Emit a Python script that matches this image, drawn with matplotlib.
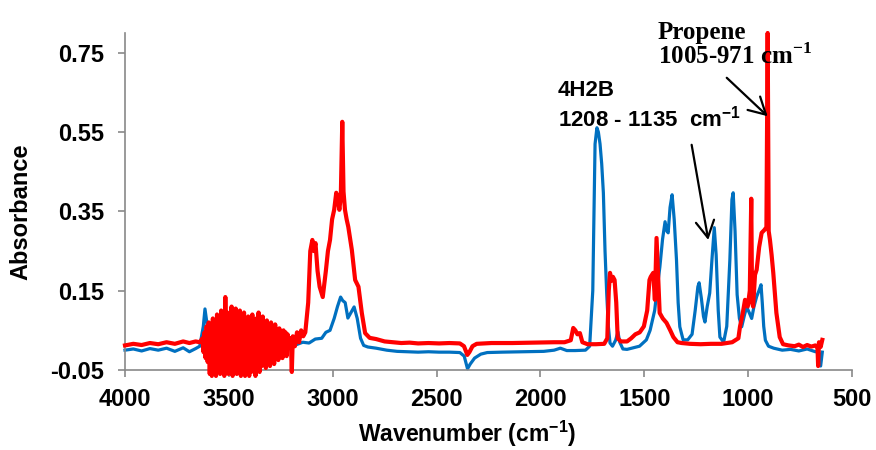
import matplotlib.pyplot as plt

plt.rcParams['font.family'] = ['Liberation Sans', 'DejaVu Sans']
plt.rcParams['font.weight'] = 'bold'
plt.rcParams['mathtext.fontset'] = 'custom'
plt.rcParams['mathtext.rm'] = 'Liberation Serif:bold'
plt.rcParams['mathtext.sf'] = 'Liberation Sans:bold'
plt.rcParams['axes.unicode_minus'] = False

# 4H2B spectrum (wavenumber, absorbance)
blue_pts = [
    (4000, 0.000), (3960, 0.003), (3920, -0.002), (3880, 0.004), (3840, 0.000),
    (3800, 0.005), (3760, -0.003), (3720, 0.006), (3690, -0.004), (3660, 0.004),
    (3640, 0.010), (3623, 0.060), (3615, 0.104), (3606, 0.070), (3593, 0.020),
    (3568, 0.010), (3538, 0.015), (3497, 0.005), (3447, 0.010), (3397, -0.005),
    (3346, 0.008), (3296, 0.000), (3245, -0.010), (3195, 0.010), (3144, 0.020),
    (3114, 0.018), (3084, 0.028), (3053, 0.030), (3033, 0.045), (3013, 0.050),
    (2993, 0.080), (2977, 0.110), (2962, 0.134), (2952, 0.125), (2940, 0.120),
    (2927, 0.081), (2912, 0.095), (2897, 0.109), (2882, 0.080), (2866, 0.030),
    (2851, 0.012), (2831, 0.008), (2791, 0.005), (2740, 0.000), (2690, -0.003),
    (2640, -0.004), (2589, -0.005), (2539, -0.004), (2488, -0.005), (2438, -0.005),
    (2388, -0.006), (2367, -0.015), (2351, -0.047), (2338, -0.035), (2317, -0.020),
    (2287, -0.010), (2256, -0.006), (2185, -0.005), (2085, -0.004), (1984, -0.003),
    (1934, 0.000), (1904, 0.005), (1873, -0.001), (1833, -0.001), (1783, 0.000),
    (1763, 0.010), (1748, 0.150), (1737, 0.520), (1728, 0.561), (1721, 0.550),
    (1713, 0.520), (1705, 0.470), (1697, 0.397), (1689, 0.250), (1681, 0.144),
    (1673, 0.060), (1665, 0.018), (1653, 0.010), (1638, 0.025), (1627, 0.046),
    (1618, 0.020), (1603, 0.003), (1583, 0.002), (1553, 0.006), (1523, 0.010),
    (1490, 0.026), (1472, 0.050), (1450, 0.100), (1437, 0.160), (1425, 0.210),
    (1412, 0.280), (1400, 0.324), (1391, 0.300), (1385, 0.296), (1376, 0.360),
    (1366, 0.392), (1356, 0.330), (1345, 0.228), (1337, 0.120), (1329, 0.059),
    (1313, 0.026), (1291, 0.026), (1270, 0.040), (1255, 0.100), (1242, 0.160),
    (1236, 0.170), (1225, 0.130), (1215, 0.085), (1208, 0.071), (1197, 0.110),
    (1185, 0.144), (1174, 0.230), (1163, 0.309), (1154, 0.240), (1144, 0.100),
    (1136, 0.033), (1118, 0.020), (1103, 0.060), (1088, 0.228), (1078, 0.380),
    (1072, 0.397), (1063, 0.300), (1053, 0.140), (1042, 0.080), (1031, 0.059),
    (1017, 0.090), (1007, 0.109), (995, 0.095), (983, 0.080), (972, 0.110),
    (959, 0.135), (948, 0.150), (938, 0.165), (932, 0.120), (925, 0.060),
    (917, 0.025), (902, 0.010), (877, 0.005), (836, 0.000), (796, 0.002),
    (756, -0.002), (716, 0.003), (676, -0.004), (661, 0.000), (651, -0.040),
    (643, -0.005),
]

# propene spectrum (wavenumber, absorbance)
red_pts = [
    (4000, 0.012), (3960, 0.016), (3920, 0.013), (3880, 0.018), (3840, 0.015),
    (3800, 0.020), (3760, 0.016), (3720, 0.022), (3690, 0.018), (3660, 0.022),
    (3640, 0.020),
    # noisy O-H region
    (3627, 0.030), (3622, -0.005), (3617, 0.045), (3612, -0.020), (3607, 0.060),
    (3602, -0.030), (3597, 0.070), (3592, -0.060), (3587, 0.050), (3582, -0.065),
    (3577, 0.080), (3572, -0.040), (3567, 0.065), (3562, -0.065), (3557, 0.090),
    (3552, -0.030), (3547, 0.075), (3542, -0.060), (3537, 0.100), (3532, -0.050),
    (3527, 0.085), (3522, -0.065), (3517, 0.134), (3512, -0.040), (3507, 0.095),
    (3502, -0.060), (3497, 0.080), (3492, -0.035), (3487, 0.110), (3482, -0.065),
    (3477, 0.070), (3472, -0.045), (3467, 0.105), (3462, -0.060), (3457, 0.085),
    (3452, -0.030), (3447, 0.100), (3442, -0.065), (3437, 0.075), (3432, -0.050),
    (3427, 0.095), (3422, -0.065), (3417, 0.060), (3412, -0.040), (3407, 0.085),
    (3402, -0.065), (3397, 0.070), (3392, -0.055), (3387, 0.090), (3382, -0.045),
    (3377, 0.065), (3372, -0.065), (3367, 0.080), (3362, -0.030), (3357, 0.095),
    (3352, -0.055), (3347, 0.070), (3342, -0.040), (3337, 0.085), (3332, -0.020),
    (3327, 0.060), (3322, -0.045), (3317, 0.075), (3312, -0.030), (3307, 0.055),
    (3302, -0.040), (3297, 0.070), (3292, -0.015), (3287, 0.050), (3282, -0.035),
    (3277, 0.065), (3272, -0.010), (3267, 0.045), (3262, -0.025), (3257, 0.055),
    (3252, 0.000), (3247, 0.040), (3242, -0.020), (3237, 0.050), (3232, 0.005),
    (3227, 0.045), (3222, -0.015), (3217, 0.040), (3212, 0.010), (3202, 0.030),
    (3197, -0.055), (3192, 0.035), (3182, 0.010), (3172, 0.045), (3162, 0.020),
    (3152, 0.050), (3142, 0.035), (3132, 0.045),
    # C-H stretch
    (3118, 0.120), (3108, 0.250), (3098, 0.278), (3091, 0.250), (3083, 0.270),
    (3073, 0.200), (3063, 0.160), (3048, 0.134), (3033, 0.200), (3023, 0.250),
    (3013, 0.278), (3003, 0.330), (2993, 0.354), (2983, 0.397), (2975, 0.380),
    (2968, 0.354), (2961, 0.390), (2954, 0.576), (2948, 0.400), (2941, 0.354),
    (2933, 0.330), (2925, 0.311), (2908, 0.253), (2892, 0.177), (2876, 0.160),
    (2860, 0.094), (2844, 0.043), (2822, 0.031), (2791, 0.028), (2750, 0.022),
    (2710, 0.020), (2670, 0.018), (2630, 0.019), (2589, 0.017), (2539, 0.018),
    (2488, 0.017), (2438, 0.018), (2388, 0.017), (2368, 0.010), (2352, -0.012),
    (2342, -0.005), (2327, 0.010), (2307, 0.016), (2236, 0.018), (2135, 0.018),
    (2034, 0.019), (1934, 0.020), (1884, 0.020), (1854, 0.025), (1842, 0.056),
    (1832, 0.050), (1822, 0.040), (1810, 0.043), (1798, 0.020), (1773, 0.015),
    (1733, 0.015), (1693, 0.016), (1678, 0.030), (1671, 0.150), (1665, 0.195),
    (1658, 0.175), (1651, 0.185), (1643, 0.177), (1635, 0.120), (1628, 0.030),
    (1613, 0.022), (1583, 0.022), (1563, 0.030), (1543, 0.040), (1522, 0.045),
    (1502, 0.060), (1486, 0.100), (1475, 0.177), (1469, 0.185), (1457, 0.195),
    (1449, 0.127), (1441, 0.283), (1434, 0.195), (1426, 0.094), (1411, 0.080),
    (1393, 0.069), (1375, 0.050), (1360, 0.033), (1340, 0.020), (1320, 0.018),
    (1280, 0.016), (1229, 0.015), (1179, 0.016), (1128, 0.016), (1077, 0.020),
    (1047, 0.030), (1039, 0.060), (1027, 0.090), (1015, 0.127), (1002, 0.110),
    (992, 0.150), (985, 0.382), (981, 0.120), (976, 0.110), (967, 0.190),
    (959, 0.203), (947, 0.260), (935, 0.296), (922, 0.303), (912, 0.310),
    (906, 0.800), (901, 0.300), (895, 0.278), (887, 0.240), (879, 0.195),
    (864, 0.094), (848, 0.033), (832, 0.015), (806, 0.012), (776, 0.010),
    (756, 0.014), (736, 0.008), (716, 0.013), (696, 0.009), (676, 0.012),
    (666, 0.005), (663, -0.040), (659, 0.020), (651, 0.008), (643, 0.026),
]

x_ticks = [4000, 3500, 3000, 2500, 2000, 1500, 1000, 500]
y_ticks = [-0.05, 0.15, 0.35, 0.55, 0.75]
y_labels = ['-0.05', '0.15', '0.35', '0.55', '0.75']

blue_x = [p[0] for p in blue_pts]
blue_y = [p[1] for p in blue_pts]
red_x = [p[0] for p in red_pts]
red_y = [p[1] for p in red_pts]

fig = plt.figure(figsize=(8.76, 4.5), dpi=100)
ax = fig.add_axes([0.1427, 0.1778, 0.8299, 0.7489])

ax.plot(blue_x, blue_y, color='#0070C0', lw=2.3, clip_on=False, zorder=2)
ax.plot(red_x, red_y, color='#FF0000', lw=3.0, clip_on=False, zorder=3)

ax.set_xlim(4000, 500)
ax.set_ylim(-0.05, 0.80)
ax.set_xticks(x_ticks)
ax.set_xticklabels([str(t) for t in x_ticks])
ax.set_yticks(y_ticks)
ax.set_yticklabels(y_labels)

for s in ['top', 'right']:
    ax.spines[s].set_visible(False)
for s in ['left', 'bottom']:
    ax.spines[s].set_color('#898989')
    ax.spines[s].set_linewidth(1.2)
ax.tick_params(axis='both', colors='#898989', labelcolor='black', width=1.2,
               length=5, labelsize=17)
ax.tick_params(axis='y', pad=10)
ax.tick_params(axis='x', pad=8)

ax.set_ylabel('Absorbance', fontsize=17, fontweight='bold', va='center')
ax.yaxis.set_label_coords(-0.143, 0.47)
ax.set_xlabel(r'Wavenumber (cm$^{\mathsf{-1}}$)', fontsize=16.5,
              fontweight='bold', va='center')
ax.xaxis.set_label_coords(0.47, -0.19)

# annotations
ax.text(1915, 0.642, '4H2B', fontsize=16, fontweight='bold', va='baseline')
ax.text(1915, 0.563, r'1208 - 1135  cm$^{\mathsf{-1}}$', fontsize=16,
        fontweight='bold', va='baseline')
ax.text(1434, 0.786, 'Propene', fontsize=18, fontweight='bold',
        family='Liberation Serif', va='baseline', clip_on=False)
ax.text(1434, 0.722, r'1005-971 cm$^{\mathrm{-1}}$', fontsize=18,
        fontweight='bold', family='Liberation Serif', va='baseline')

arrow = dict(arrowstyle='->,head_length=0.6,head_width=0.33', color='black',
             lw=1.6, shrinkA=0, shrinkB=0, mutation_scale=20)
ax.annotate('', xy=(1192, 0.278), xytext=(1272, 0.518), arrowprops=arrow)
ax.annotate('', xy=(906, 0.59), xytext=(1103, 0.687), arrowprops=arrow)

fig.savefig('out.png', dpi=100)
